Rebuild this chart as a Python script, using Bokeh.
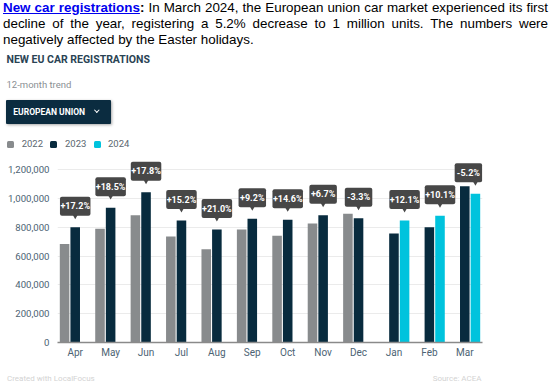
from bokeh.plotting import figure
from bokeh.models import (ColumnDataSource, Div, NumeralTickFormatter, FixedTicker,
                          FactorRange, Range1d)
from bokeh.transform import dodge
from bokeh.layouts import column
from bokeh.core.properties import value
from bokeh.embed import file_html
from bokeh.resources import INLINE

# ---------------- data ----------------
months = ["Apr", "May", "Jun", "Jul", "Aug", "Sep", "Oct", "Nov", "Dec", "Jan", "Feb", "Mar"]
units_2022 = [685000, 790000, 884000, 736000, 648000, 785000, 741000, 826000, 894000, None, None, None]
units_2023 = [801000, 937000, 1044000, 847000, 785000, 859000, 852000, 884000, 863000, 757000, 801000, 1085000]
units_2024 = [None, None, None, None, None, None, None, None, None, 847000, 880000, 1033000]
changes = ["+17.2%", "+18.5%", "+17.8%", "+15.2%", "+21.0%", "+9.2%", "+14.6%", "+6.7%", "-3.3%",
           "+12.1%", "+10.1%", "-5.2%"]
years = ["2022", "2023", "2024"]
y_ticks = [0, 200000, 400000, 600000, 800000, 1000000, 1200000]

# ---------------- style / layout ----------------
C22, C23, C24 = "#888b8d", "#082b3e", "#00c3dd"
BOX = "#474747"
TICK_C = "#4c6373"
FONT = "Roboto"
W = 558
HEAD_H = 52          # headline block
TOP_H = 100          # title / selector / legend block
FOOT_H = 23          # footer block
MAIN_H = 389 - HEAD_H - TOP_H - FOOT_H
FRAME_L, FRAME_R = 57, 482
FRAME_H = 190
Y_MAX = 1320000
UPP = Y_MAX / FRAME_H                       # data units per pixel
CW = (FRAME_R - FRAME_L) / len(months)     # pixels per category

# ---------------- main chart ----------------
p = figure(x_range=FactorRange(*months), y_range=Range1d(0, Y_MAX),
           width=W, height=MAIN_H, output_backend="svg", toolbar_location=None,
           min_border_left=FRAME_L, min_border_right=W - FRAME_R,
           min_border_top=0, min_border_bottom=MAIN_H - FRAME_H,
           outline_line_color=None, background_fill_color="white", border_fill_color="white")


def src_for(vals):
    m = [mo for mo, v in zip(months, vals) if v is not None]
    u = [v for v in vals if v is not None]
    return ColumnDataSource(dict(month=m, units=u))


s22, s23, s24 = src_for(units_2022), src_for(units_2023), src_for(units_2024)
p.vbar(x=dodge("month", -0.3, range=p.x_range), top="units", width=0.27, source=s22,
       fill_color=C22, line_color=None)
p.vbar(x=dodge("month", 0.0, range=p.x_range), top="units", width=0.27, source=s23,
       fill_color=C23, line_color=None)
p.vbar(x=dodge("month", 0.3, range=p.x_range), top="units", width=0.27, source=s24,
       fill_color=C24, line_color=None)

# change boxes: above the 2023 bar (Apr-Dec) or the 2024 bar (Jan-Mar);
# the last box is nudged left so it stays inside the plot area
groups = {}
for i, mo in enumerate(months):
    if units_2024[i] is not None:
        v, anchor = units_2024[i], 0.3
    else:
        v, anchor = units_2023[i], 0.0
    box_shift = -7 / CW if i == len(months) - 1 else 0.0
    g = groups.setdefault((anchor, box_shift), dict(month=[], units=[], change=[], tip=[], box_y=[], box_w=[]))
    g["month"].append(mo)
    g["units"].append(v)
    g["change"].append(changes[i])
    g["tip"].append(v + 11.5 * UPP)
    g["box_y"].append(v + 21 * UPP)
    g["box_w"].append(3 * len(changes[i]) + 12.5)

for (anchor, box_shift), g in groups.items():
    s = ColumnDataSource(g)
    p.scatter(x=dodge("month", anchor, range=p.x_range), y="tip", source=s, marker="inverted_triangle",
              size=6, fill_color=BOX, line_color=None)
    p.rect(x=dodge("month", anchor + box_shift, range=p.x_range), y="box_y", width="box_w", height=19,
           width_units="screen", height_units="screen", source=s,
           fill_color=BOX, line_color=None, border_radius=2)
    p.text(x=dodge("month", anchor + box_shift, range=p.x_range), y="box_y", text="change", source=s,
           text_font=value(FONT), text_font_style="bold", text_font_size="9px", text_color="white",
           text_align="center", text_baseline="middle")

# axes
p.yaxis.ticker = FixedTicker(ticks=y_ticks)
p.ygrid.ticker = FixedTicker(ticks=y_ticks)
p.yaxis.formatter = NumeralTickFormatter(format="0,0")
p.yaxis.axis_line_color = None
p.yaxis.major_tick_line_color = None
p.yaxis.minor_tick_line_color = None
p.yaxis.major_tick_out = 0
p.yaxis.major_tick_in = 0
p.yaxis.major_label_standoff = 8
p.yaxis.major_label_text_font = FONT
p.yaxis.major_label_text_font_size = "9.6px"
p.yaxis.major_label_text_color = TICK_C

p.xaxis.axis_line_color = "#8a8a8a"
p.xaxis.axis_line_width = 1.5
p.xaxis.major_tick_line_color = None
p.xaxis.major_tick_out = 0
p.xaxis.major_tick_in = 0
p.xaxis.major_label_standoff = 4
p.xaxis.major_label_text_font = FONT
p.xaxis.major_label_text_font_size = "10px"
p.xaxis.major_label_text_color = TICK_C

p.xgrid.grid_line_color = None
p.ygrid.grid_line_color = "#ebebeb"
p.ygrid.grid_line_width = 1

# ---------------- top block: title, subtitle, selector, legend ----------------
ABS = "position:absolute;white-space:nowrap;"
legend_html = ""
for yr, col, sq_x, lab_x in zip(years, (C22, C23, C24), (6.7, 50, 94), (21.7, 65, 108)):
    legend_html += (
        f'<div style="{ABS}left:{sq_x}px;top:88.7px;width:7px;height:7px;border-radius:1.5px;'
        f'background:{col};"></div>'
        f'<div style="{ABS}left:{lab_x}px;top:86.3px;font:9.5px/12px Roboto;color:#5b6770;">{yr}</div>'
    )
top_html = (
    f'<div style="position:relative;width:{W}px;height:{TOP_H}px;overflow:hidden;">'
    f'<div style="{ABS}left:6.5px;top:2.4px;font:bold 10.5px/12px Roboto;color:#2a4354;">'
    'NEW EU CAR REGISTRATIONS</div>'
    f'<div style="{ABS}left:6.5px;top:26.5px;font:9.5px/12px Roboto;color:#8a8f94;">12-month trend</div>'
    f'<div style="{ABS}left:6px;top:47.5px;width:105px;height:24.5px;background:#0b2c40;border-radius:1px;'
    'box-shadow:1px 1px 3px rgba(0,0,0,0.35);">'
    f'<div style="{ABS}left:7.3px;top:0;font:bold 8.5px/24.5px Roboto;color:#fff;">EUROPEAN UNION</div>'
    f'<div style="{ABS}left:88.7px;top:8.3px;width:3.6px;height:3.6px;border-right:1.4px solid #fff;'
    'border-bottom:1.4px solid #fff;transform:rotate(45deg);"></div>'
    '</div>'
    + legend_html +
    '</div>'
)
top = Div(text=top_html, width=W, height=TOP_H, margin=0)

# ---------------- footer ----------------
foot_html = (
    f'<div style="position:relative;width:{W}px;height:{FOOT_H}px;">'
    f'<div style="{ABS}left:7px;top:6.5px;font:8px/12px Roboto;color:#d3d3d3;">Created with LocalFocus</div>'
    f'<div style="{ABS}right:76.5px;top:6.5px;font:8px/12px Roboto;color:#d3d3d3;">Source: ACEA</div>'
    '</div>'
)
foot = Div(text=foot_html, width=W, height=FOOT_H, margin=0)

# ---------------- headline text ----------------
just = "text-align:justify;text-align-last:justify;"
head_html = (
    '<div style="width:548px;padding-left:3px;font-family:\'Liberation Sans\',Arial,sans-serif;'
    'font-size:13.4px;line-height:16px;color:#000;">'
    '<div style="' + just + '"><b><a style="color:#0000ee;text-decoration:underline;">'
    'New car registrations</a>:</b> In March 2024, the European union car market experienced its first</div>'
    '<div style="' + just + '">decline of the year, registering a 5.2% decrease to 1 million units. '
    'The numbers were</div>'
    '<div>negatively affected by the Easter holidays.</div></div>'
)
head = Div(text=head_html, width=W, height=HEAD_H, margin=0)

layout = column(head, top, p, foot, spacing=0)
open("out.html", "w").write(file_html(layout, INLINE))
